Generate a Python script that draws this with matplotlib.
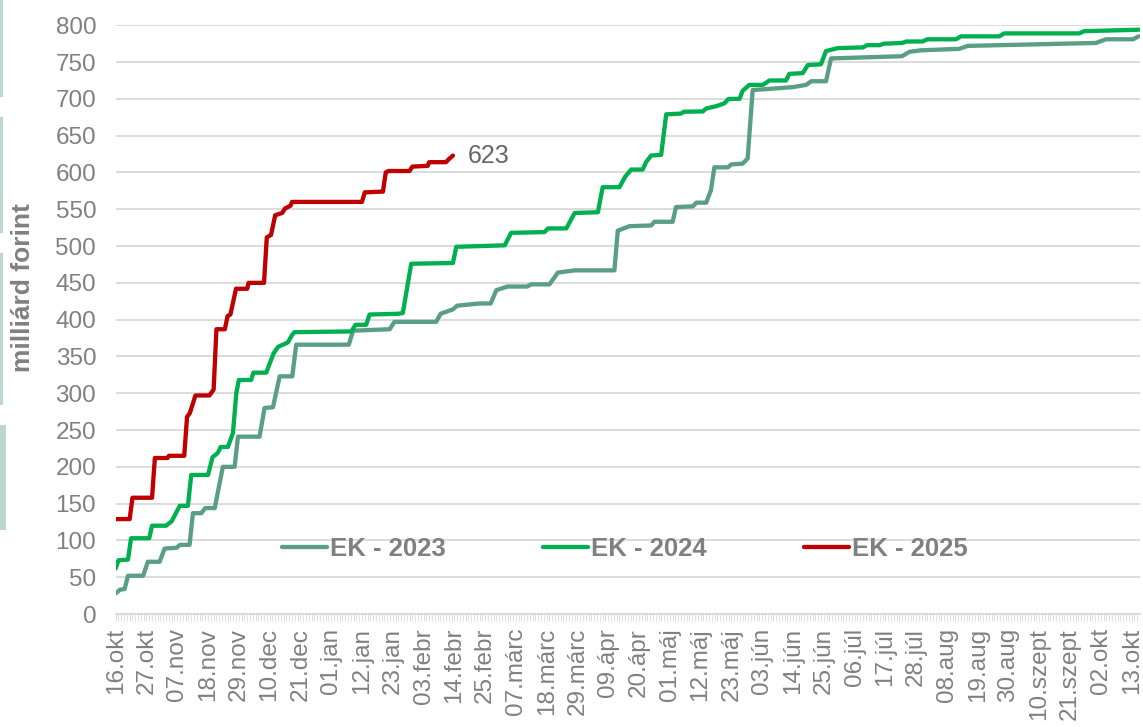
import matplotlib
matplotlib.use("Agg")
from matplotlib import pyplot as plt
from matplotlib.patches import Rectangle

plt.rcParams["font.family"] = ["Liberation Sans", "DejaVu Sans"]

# x = days since 16 Oct (daily category axis), y = milliárd forint
ek2023 = [(0, 28), (1.5, 33), (3.2, 34), (4.4, 52), (9.8, 52), (11.5, 71), (15.7, 71),
          (17.5, 89), (21.7, 90), (23, 94), (26.4, 94), (27.6, 137), (30.6, 137), (32, 144),
          (35.4, 144), (37, 175), (38.3, 200), (42.5, 200), (43.7, 241), (51.4, 241),
          (53.2, 280), (56.2, 281), (58.6, 323), (63.1, 323), (64.5, 366), (83.3, 366),
          (84.8, 385), (97.9, 387), (99.6, 397), (114.5, 397), (116.1, 408), (120.5, 414),
          (122, 419), (130, 422), (134, 422), (136, 440), (140, 445), (147, 445), (148.5, 448),
          (155, 448), (158, 464), (164, 467), (178.2, 467), (179.4, 521), (183.6, 527),
          (191.3, 528), (192.5, 533), (199, 533), (200.2, 553), (206.2, 554), (207.5, 559),
          (211, 559), (212.7, 576), (213.9, 607), (218.7, 607), (220, 611), (224, 612),
          (225.8, 619), (227.6, 712), (235, 714), (241.9, 716), (246.7, 719), (248.5, 724),
          (253.8, 724), (255.6, 755), (281, 758), (283.6, 764), (287.7, 766), (301.4, 768),
          (304.4, 772), (350.2, 776), (353.8, 781), (363.5, 781), (365.5, 785)]

ek2024 = [(0, 62), (1, 73), (4.4, 74), (5.5, 103), (12, 103), (13, 120), (18, 120),
          (20, 126), (22.9, 147), (25.8, 147), (27, 189), (33, 189), (34.6, 213), (36.5, 219),
          (37.5, 227), (40.1, 227), (41.9, 246), (43.1, 300), (44, 318), (48.4, 318),
          (49.2, 328), (53.8, 328), (56.4, 354), (58, 363), (61.5, 369), (63, 379),
          (63.9, 383), (84.2, 384), (85.7, 393), (89.5, 393), (90.7, 407), (101, 408),
          (102.6, 409), (105.6, 476), (120.5, 477), (121.7, 499), (139, 501), (141.3, 518),
          (153.2, 519), (154.5, 524), (161, 524), (164, 545), (172.3, 546), (174, 580),
          (180, 580), (182, 594), (184.2, 604), (188.3, 604), (189.5, 614), (191.3, 623),
          (194.9, 624), (196.7, 679), (202, 680), (203, 682.5), (209.8, 683), (211, 687),
          (214.5, 690), (217.5, 694), (219, 700), (222.9, 700), (224, 711), (226.4, 719),
          (231.2, 719), (233.6, 725), (239.5, 725), (240.7, 734), (245.5, 735), (247.3, 746),
          (252, 747), (253.8, 765), (258, 769), (267, 770), (268.5, 773), (272.9, 773),
          (274.5, 775), (281, 776), (282.5, 778), (288.3, 778), (290, 781), (300.2, 781),
          (302, 785), (315.7, 785), (317.5, 789), (344.3, 789), (346, 792), (365.5, 794)]

ek2025 = [(0, 129), (5, 129), (6, 158), (13, 158), (14, 212), (18.5, 212), (19, 215),
          (24.5, 215), (25.5, 268), (26.5, 273), (28.5, 297), (33.5, 297), (35, 305),
          (36, 387), (39, 387), (40, 405), (41, 407), (43, 442), (47, 442), (47.5, 450),
          (53, 450), (54, 512), (55.5, 515), (57, 542), (59.5, 545), (60.5, 551),
          (62.5, 555), (63, 560), (88, 560), (89, 573), (95.5, 574), (96.5, 600),
          (97.5, 602), (105, 602), (106, 608), (111.5, 609), (112, 614), (118, 614),
          (119, 618), (120.5, 623)]

series_names = ["EK - 2023", "EK - 2024", "EK - 2025"]
series_colors = ["#5A9E85", "#00B050", "#C00000"]

tick_labels = ["16.okt", "27.okt", "07.nov", "18.nov", "29.nov", "10.dec", "21.dec",
               "01.jan", "12.jan", "23.jan", "03.febr", "14.febr", "25.febr", "07.márc",
               "18.márc", "29.márc", "09.ápr", "20.ápr", "01.máj", "12.máj", "23.máj",
               "03.jún", "14.jún", "25.jún", "06.júl", "17.júl", "28.júl", "08.aug",
               "19.aug", "30.aug", "10.szept", "21.szept", "02.okt", "13.okt"]
last_label = "623"

grey = "#808080"
light = "#D9D9D9"

fig = plt.figure(figsize=(11.43, 7.27), dpi=100)
ax = fig.add_axes([0.1012, 0.1554, 0.8962, 0.8098])

for data, name, color in zip([ek2023, ek2024, ek2025], series_names, series_colors):
    xs = [p[0] for p in data]
    ys = [p[1] for p in data]
    ax.plot(xs, ys, color=color, lw=3.1, label=name, solid_capstyle="round",
            solid_joinstyle="round", zorder=3)

ax.annotate(last_label, xy=(ek2025[-1][0], ek2025[-1][1]), xytext=(11, 0),
            textcoords="offset points", ha="left", va="center", fontsize=18,
            color="#666666")

ax.set_xlim(0, 366)
ax.set_ylim(0, 800)
ax.set_yticks(range(0, 801, 50))
ax.set_xticks(range(0, 364, 11))
ax.set_xticklabels(tick_labels, rotation=90)
ax.set_xticks(range(0, 366), minor=True)

ax.grid(axis="y", color=light, lw=1.3, zorder=0)
ax.set_axisbelow(True)
for s in ["left", "right", "top"]:
    ax.spines[s].set_visible(False)
ax.spines["bottom"].set_color(light)
ax.spines["bottom"].set_linewidth(1.3)

ax.tick_params(axis="y", length=0, pad=14, labelsize=17.5, labelcolor=grey)
ax.tick_params(axis="x", which="both", length=5, width=0.6, color=light,
               pad=5, labelsize=17.5, labelcolor=grey)

ax.set_ylabel("milliárd forint", fontsize=19, fontweight="bold", color=grey)
ax.yaxis.set_label_coords(-0.079, 0.554)

ax.legend(loc="center", bbox_to_anchor=(0.497, 0.11), ncol=3, frameon=False,
          prop={"weight": "bold", "size": 18.5}, labelcolor=grey,
          handlelength=1.75, handletextpad=0.1, columnspacing=3.8)

# faint bars on the left edge of the original slide crop
for y0, y1, w in [(0, 97, 3), (117, 233, 3), (253, 405, 3), (425, 530, 6)]:
    fig.add_artist(Rectangle((0, 1 - y1 / 727), w / 1143, (y1 - y0) / 727,
                             transform=fig.transFigure, color="#BBD8CF", lw=0))

fig.savefig("out.png", dpi=100)
